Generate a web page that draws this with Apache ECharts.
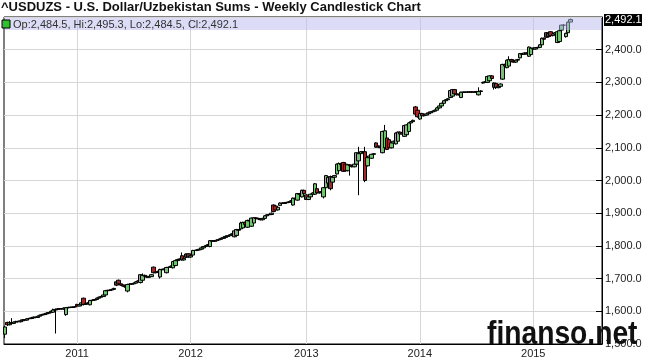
<!DOCTYPE html>
<html><head><meta charset="utf-8">
<script src="https://cdn.jsdelivr.net/npm/echarts@6/dist/echarts.min.js"></script>
<style>html,body{margin:0;padding:0;background:#fff}#c{width:646px;height:362px}</style>
</head><body><div id="c"></div>
<script>
const titleText = '^USDUZS - U.S. Dollar/Uzbekistan Sums - Weekly Candlestick Chart';
const watermarkText = 'finanso.net';
const firstWeek = '2010-05-14';
const totalWeeks = 274;
const yMin = 1500, yMax = 2500, yStep = 100;

const opens = [
1530,1566,1559,1565,1563,1567,1569,1568,1571,1574,
1573,1577,1578,1580,1582,1581,1585,1588,1590,1592,
1594,1596,1597,1604,1606,1607,1608,1607,1590,1611,
1612,1612,1613,1621,1616,1620,1640,1621,1624,1620,
1633,1634,1636,1640,1643,1645,1650,1663,1664,1665,
1667,1690,1695,1684,1681,1677,1662,1682,1683,1684,
1686,1690,1688,1695,1710,1707,1704,1706,1735,1718,
1720,1705,1728,1727,1718,1734,1735,1733,1740,1755,
1758,1770,1757,1775,1776,1766,1772,1786,1786,1788,
1790,1794,1798,1801,1798,1816,1814,1816,1818,1820,
1823,1826,1829,1831,1834,1828,1832,1850,1852,1855,
1872,1857,1878,1860,1870,1886,1884,1882,1880,1884,
1892,1895,1896,1925,1922,1910,1924,1931,1930,1932,
1933,1935,1925,1946,1940,1960,1950,1970,1956,1942,
1950,1958,1958,1975,1962,1964,1950,1978,1992,2012,
1995,2010,2020,2030,2052,2055,2050,2030,2048,2045,
2042,2050,2060,2082,2088,2088,2045,2070,2068,2080,
2115,2102,2105,2085,2100,2130,2125,2100,2115,2112,
2120,2148,2142,2135,2140,2150,2176,2180,2225,2215,
2188,2205,2198,2200,2204,2207,2210,2212,2215,2222,
2228,2236,2244,2247,2254,2258,2278,2265,2262,2254,
2270,2270,2270,2271,2270,2271,2270,2262,2272,2298,
2300,2300,2305,2320,2298,2297,2284,2288,2310,2355,
2345,2350,2370,2365,2362,2368,2375,2388,2386,2390,
2380,2385,2405,2402,2406,2407,2415,2435,2452,2450,
2455,2443,2448,2422,2425,2460,2475,2440,2452,2484.5
];
const closes = [
1552,1559,1565,1563,1567,1569,1568,1571,1574,1573,
1577,1578,1580,1582,1581,1585,1588,1590,1592,1594,
1596,1600,1604,1606,1607,1608,1607,1610,1611,1612,
1612,1613,1614,1616,1620,1626,1621,1624,1626,1633,
1634,1636,1640,1643,1645,1650,1663,1664,1665,1667,
1670,1680,1684,1680,1677,1675,1682,1683,1684,1686,
1690,1693,1712,1710,1707,1704,1706,1712,1718,1720,
1722,1728,1727,1730,1734,1735,1738,1752,1755,1758,
1760,1757,1762,1765,1766,1770,1786,1786,1788,1790,
1794,1798,1801,1804,1816,1814,1816,1818,1820,1823,
1826,1829,1831,1834,1837,1846,1850,1848,1870,1872,
1866,1878,1876,1885,1886,1884,1882,1880,1884,1892,
1895,1896,1900,1905,1910,1918,1931,1930,1932,1933,
1935,1938,1946,1944,1960,1958,1970,1960,1942,1950,
1958,1962,1990,1962,1964,1966,1978,2015,2010,1975,
2010,2015,2050,2052,2048,2028,2030,2048,2045,2042,
2050,2085,2082,2088,2086,2000,2070,2075,2080,2082,
2102,2105,2100,2150,2152,2095,2100,2115,2120,2145,
2148,2142,2145,2168,2170,2176,2180,2184,2203,2195,
2205,2198,2200,2204,2207,2210,2212,2215,2222,2228,
2236,2244,2247,2250,2275,2278,2265,2262,2263,2270,
2270,2270,2271,2270,2271,2270,2272,2272,2274,2300,
2302,2318,2320,2312,2285,2284,2288,2295,2355,2350,
2368,2370,2365,2362,2368,2370,2388,2386,2390,2388,
2408,2405,2402,2406,2407,2415,2435,2432,2438,2440,
2443,2448,2452,2455,2458,2475,2475,2450,2484,2492.1
];
const lows = [
1518,1555,1557,1560,1561,1565,1566,1566,1569,1571,
1572,1575,1576,1579,1579,1580,1584,1586,1588,1590,
1592,1595,1595,1532,1604,1605,1605,1605,1586,1609,
1610,1610,1611,1614,1615,1618,1618,1619,1622,1618,
1631,1632,1635,1638,1641,1644,1648,1661,1662,1663,
1666,1677,1682,1678,1675,1672,1658,1680,1681,1682,
1685,1688,1685,1693,1705,1702,1702,1705,1716,1716,
1718,1700,1725,1725,1716,1732,1733,1731,1738,1753,
1756,1755,1755,1763,1764,1764,1770,1784,1784,1786,
1789,1793,1796,1799,1796,1812,1812,1814,1816,1819,
1821,1824,1827,1829,1832,1826,1830,1846,1850,1853,
1864,1855,1874,1858,1868,1882,1880,1878,1878,1883,
1890,1893,1894,1903,1908,1908,1922,1928,1928,1930,
1931,1933,1923,1942,1938,1955,1948,1958,1940,1940,
1948,1956,1956,1960,1960,1962,1945,1976,1990,1970,
1993,2008,2018,2028,2046,2026,2028,2028,2015,2040,
2040,2048,1955,2080,2084,1995,2043,2068,2066,2078,
2100,2100,2098,2083,2098,2093,2098,2098,2113,2110,
2118,2140,2140,2133,2138,2148,2174,2178,2200,2192,
2186,2196,2196,2198,2202,2205,2208,2210,2213,2220,
2226,2234,2242,2245,2252,2256,2263,2260,2260,2252,
2268,2268,2269,2268,2268,2268,2268,2260,2270,2296,
2298,2298,2303,2310,2278,2280,2282,2286,2308,2348,
2343,2348,2363,2360,2360,2366,2373,2384,2384,2386,
2378,2383,2400,2400,2404,2405,2413,2430,2436,2438,
2441,2441,2446,2420,2423,2458,2472,2437,2450,2484.5
];
const highs = [
1556,1568,1570,1579,1569,1571,1571,1573,1576,1576,
1579,1580,1582,1584,1584,1587,1590,1592,1594,1596,
1598,1602,1608,1608,1609,1610,1610,1612,1613,1614,
1614,1615,1616,1623,1622,1628,1642,1626,1628,1635,
1636,1638,1642,1645,1647,1652,1665,1666,1667,1669,
1672,1692,1697,1686,1683,1678,1684,1685,1686,1688,
1692,1695,1714,1716,1712,1709,1708,1714,1737,1722,
1724,1730,1730,1732,1736,1737,1740,1754,1757,1760,
1762,1780,1764,1777,1778,1772,1788,1788,1790,1792,
1796,1800,1803,1806,1818,1818,1818,1820,1822,1825,
1828,1831,1833,1836,1839,1848,1852,1852,1874,1874,
1874,1880,1880,1887,1888,1888,1886,1884,1886,1894,
1897,1898,1902,1927,1924,1920,1933,1933,1934,1935,
1937,1940,1948,1948,1962,1962,1972,1972,1958,1952,
1960,1964,1992,1977,1966,1968,1980,2017,2012,2015,
2012,2017,2052,2055,2054,2057,2052,2050,2050,2047,
2052,2087,2103,2090,2090,2103,2072,2077,2082,2084,
2117,2107,2107,2152,2170,2132,2127,2117,2122,2147,
2150,2150,2147,2170,2172,2178,2182,2186,2228,2217,
2207,2207,2202,2206,2209,2212,2214,2217,2224,2230,
2238,2246,2249,2252,2277,2280,2280,2267,2265,2272,
2272,2272,2273,2273,2273,2272,2274,2285,2276,2302,
2304,2320,2322,2322,2300,2299,2290,2297,2357,2357,
2370,2380,2372,2367,2370,2372,2390,2390,2392,2392,
2410,2407,2407,2408,2409,2417,2437,2437,2454,2452,
2457,2450,2454,2457,2460,2477,2478,2452,2486,2495.3
];

const FONT = 'Liberation Sans, Arial, sans-serif';
const DAY = 86400000;
const d0 = new Date(firstWeek + 'T00:00:00Z');
const weeks = [];
for (let i = 0; i < totalWeeks; i++) {
  weeks.push(new Date(d0.getTime() + i * 7 * DAY).toISOString().slice(0, 10));
}
function yearOf(i) { return new Date(d0.getTime() + (i * 7 + 3) * DAY).getUTCFullYear(); }
function isYearStart(i) { return i > 0 && yearOf(i) !== yearOf(i - 1); }
function fmt(v) { return v.toLocaleString('en-US', {minimumFractionDigits: 1, maximumFractionDigits: 1}); }

const candleData = opens.map((o, i) => [o, closes[i], lows[i], highs[i]]);

const chart = echarts.init(document.getElementById('c'), null, {renderer: 'canvas'});
chart.setOption({
  animation: false,
  backgroundColor: '#fff',
  title: {
    text: titleText, left: 1, top: 1, padding: 0,
    textStyle: {fontFamily: FONT, fontSize: 13, fontWeight: 'bold', color: '#111'}
  },
  grid: {left: 4, right: 44, top: 17, bottom: 18, show: true, borderColor: '#000', borderWidth: 1, backgroundColor: 'transparent'},
  xAxis: {
    type: 'category', data: weeks, boundaryGap: true,
    axisLine: {show: true, lineStyle: {color: '#000', width: 1}},
    axisTick: {show: false},
    axisLabel: {
      interval: (idx) => isYearStart(idx),
      formatter: (val, idx) => String(yearOf(idx)),
      fontFamily: FONT, fontSize: 11, color: '#222', margin: 4
    },
    splitLine: {show: true, interval: (idx) => isYearStart(idx), alignWithLabel: true, lineStyle: {color: '#d6d6d6', width: 1}}
  },
  yAxis: {
    type: 'value', position: 'right', min: yMin, max: yMax, interval: yStep, scale: true,
    axisLine: {show: true, lineStyle: {color: '#000', width: 1}},
    axisTick: {show: true, inside: true, length: 6, lineStyle: {color: '#000'}},
    axisLabel: {
      showMaxLabel: false,
      formatter: (v) => v >= yMax ? '' : fmt(v),
      fontFamily: FONT, fontSize: 11, color: '#222', margin: 3
    },
    splitLine: {show: true, lineStyle: {color: '#d6d6d6', width: 1}}
  },
  series: [{
    type: 'candlestick',
    data: candleData,
    barWidth: 4,
    itemStyle: {
      color: '#74c274', color0: '#a3292b',
      borderColor: '#000', borderColor0: '#000', borderWidth: 1
    }
  }]
});

const n = closes.length - 1;
const lastY = chart.convertToPixel({yAxisIndex: 0}, closes[n]);
const legendStr = 'Op:' + fmt(opens[n]) + ', Hi:' + fmt(highs[n]) + ', Lo:' + fmt(lows[n]) + ', Cl:' + fmt(closes[n]);

chart.setOption({
  graphic: [
    {type: 'rect', z: 100, shape: {x: 5, y: 18, width: 596, height: 12}, style: {fill: 'rgba(186,186,238,0.5)'}},
    {type: 'rect', z: 101, shape: {x: 2, y: 20, width: 8, height: 8}, style: {fill: '#2fbf2f', stroke: '#000', lineWidth: 1}},
    {type: 'text', z: 101, x: 13, y: 24.5, style: {text: legendStr, font: '11px ' + FONT, fill: '#333', verticalAlign: 'middle'}},
    {type: 'rect', z: 101, shape: {x: 604, y: Math.round(lastY) - 6, width: 38, height: 12}, style: {fill: '#000'}},
    {type: 'text', z: 102, x: 605, y: Math.round(lastY), style: {text: fmt(closes[n]), font: '11px ' + FONT, fill: '#fff', verticalAlign: 'middle'}},
    {type: 'text', z: 103, x: 487, y: 335, scaleX: 0.83, style: {text: watermarkText, font: 'bold 34px ' + FONT, fill: '#111', verticalAlign: 'middle'}}
  ]
});
</script>
</body></html>
